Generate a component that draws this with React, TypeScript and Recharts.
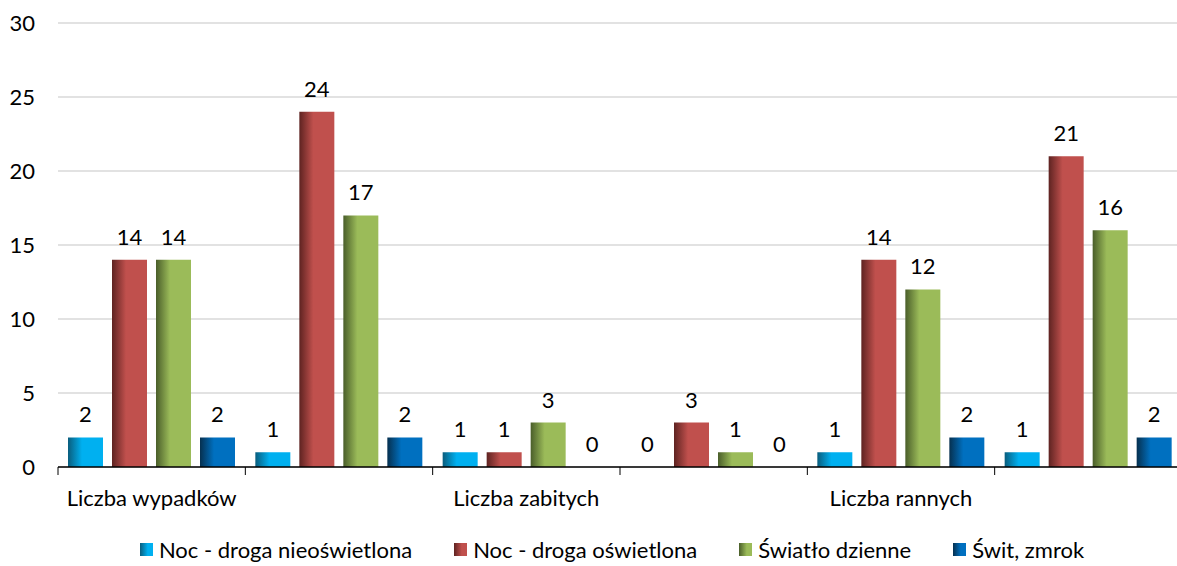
import { BarChart, Bar, XAxis, YAxis, CartesianGrid, LabelList, Legend } from 'recharts';

const categories = ['Liczba wypadków', '', 'Liczba zabitych', '', 'Liczba rannych', ''];
const nocNieoswietlona = [2, 1, 1, 0, 1, 1];
const nocOswietlona = [14, 24, 1, 3, 14, 21];
const swiatloDzienne = [14, 17, 3, 1, 12, 16];
const switZmrok = [2, 2, 0, 0, 2, 2];
const yTicks = [0, 5, 10, 15, 20, 25, 30];

const series = [
  { key: 'nocNieoswietlona', name: 'Noc - droga nieoświetlona', color: '#00B0F0', dark: '#0a5d7d', values: nocNieoswietlona },
  { key: 'nocOswietlona', name: 'Noc - droga oświetlona', color: '#C0504D', dark: '#5e2321', values: nocOswietlona },
  { key: 'swiatloDzienne', name: 'Światło dzienne', color: '#9BBB59', dark: '#4a5e2a', values: swiatloDzienne },
  { key: 'switZmrok', name: 'Świt, zmrok', color: '#0070C0', dark: '#06304f', values: switZmrok },
];

const data = categories.map((name, i) => {
  const row: Record<string, string | number> = { name };
  series.forEach(s => { row[s.key] = s.values[i]; });
  return row;
});

const FONT = 'Lato, sans-serif';
const FS = 22;
const CHART_W = 1182;
const CHART_H = 566;
const PLOT_LEFT = 58;
const BAND = (CHART_W - PLOT_LEFT) / categories.length;

// category label plus a small tick at the left edge of each group
function CategoryTick({ x, y, payload }: any) {
  const edge = x - BAND / 2;
  return (
    <g>
      <line x1={edge} x2={edge} y1={y - 8} y2={y} stroke="#000" strokeWidth={1} />
      <text x={x} y={y + 31} textAnchor="middle" fontFamily={FONT} fontSize={FS} fill="#000">
        {payload.value}
      </text>
    </g>
  );
}

function ValueLabel({ x, y, width, value }: any) {
  if (value == null) return null;
  return (
    <text x={x + width / 2} y={y - 15} textAnchor="middle" fontFamily={FONT} fontSize={FS} fill="#000">
      {value}
    </text>
  );
}

function LegendContent() {
  return (
    <div style={{ display: 'flex', justifyContent: 'center', gap: 42, fontFamily: FONT, fontSize: FS, color: '#000', paddingLeft: 42 }}>
      {series.map(s => (
        <div key={s.key} style={{ display: 'flex', alignItems: 'center' }}>
          <span
            style={{
              width: 13,
              height: 13,
              marginRight: 6,
              background: `linear-gradient(to right, ${s.dark}, ${s.color} 60%)`,
            }}
          />
          <span>{s.name}</span>
        </div>
      ))}
    </div>
  );
}

export default function App() {
  return (
    <div style={{ position: 'absolute', left: 0, top: 0, width: 1177, height: CHART_H, overflow: 'hidden', background: '#fff' }}>
      <BarChart
        width={CHART_W}
        height={CHART_H}
        data={data}
        margin={{ top: 23, right: 0, left: 0, bottom: 0 }}
        barCategoryGap={10}
        barGap={9}
      >
        <defs>
          {series.map(s => (
            <linearGradient key={s.key} id={`grad-${s.key}`} x1="0" y1="0" x2="1" y2="0">
              <stop offset="0%" stopColor={s.dark} />
              <stop offset="40%" stopColor={s.color} />
              <stop offset="100%" stopColor={s.color} />
            </linearGradient>
          ))}
        </defs>
        <CartesianGrid vertical={false} stroke="#d9d9d9" strokeWidth={1.5} />
        <YAxis
          domain={[0, 30]}
          ticks={yTicks}
          width={PLOT_LEFT}
          axisLine={false}
          tickLine={false}
          tickSize={0}
          tickMargin={23}
          tick={{ fontFamily: FONT, fontSize: FS, fill: '#000' }}
        />
        <XAxis
          dataKey="name"
          height={69}
          axisLine={{ stroke: '#000', strokeWidth: 1.5 }}
          tickLine={false}
          interval={0}
          tick={<CategoryTick />}
        />
        <Legend verticalAlign="bottom" height={30} content={<LegendContent />} />
        {series.map(s => (
          <Bar
            key={s.key}
            dataKey={s.key}
            name={s.name}
            fill={`url(#grad-${s.key})`}
            minPointSize={(v: number) => (v === 0 ? 0.001 : 0)}
            isAnimationActive={false}
          >
            <LabelList dataKey={s.key} content={<ValueLabel />} />
          </Bar>
        ))}
      </BarChart>
    </div>
  );
}
